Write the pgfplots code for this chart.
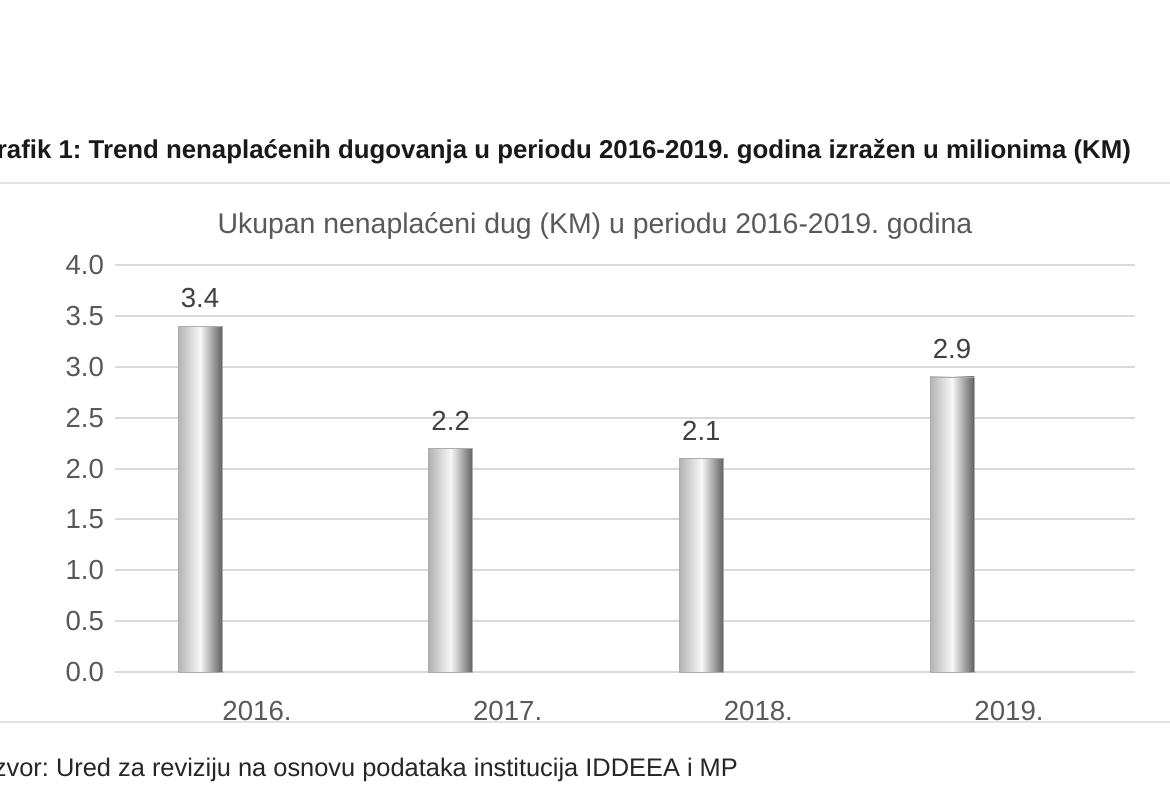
\documentclass[border=0pt]{standalone}
\usepackage{pgfplots}
\pgfplotsset{compat=1.18}
\usepackage{fontspec}
\setmainfont{Liberation Sans}
\frenchspacing
\definecolor{txtgray}{HTML}{595959}
\definecolor{gridgray}{HTML}{D9D9D9}
\definecolor{rulegray}{HTML}{E3E3E3}
\begin{document}
\begin{tikzpicture}[x=0.5pt,y=0.5pt]
\clip (0,0) rectangle (1170,800);
\fill[white] (0,0) rectangle (1170,800);
% page rules
\draw[rulegray, line width=1.2pt] (0,617) -- (1170,617);
\draw[rulegray, line width=1.2pt] (0,78) -- (1170,78);
% document caption and source
\node[anchor=east, font=\fontsize{12.9}{15}\selectfont\bfseries, text=black!90] at (1138,648)
  {Grafik 1: Trend nenaplaćenih dugovanja u periodu 2016-2019. godina izražen u milionima (KM)};
\node[anchor=east, font=\fontsize{12.7}{15}\selectfont, text=black!85] at (745,30)
  {Izvor: Ured za reviziju na osnovu podataka institucija IDDEEA i MP};
% chart title
\node[font=\fontsize{14.2}{16}\selectfont, text=txtgray] at (595,574)
  {Ukupan nenaplaćeni dug (KM) u periodu 2016-2019. godina};
\begin{axis}[
  at={(57.5pt,64pt)}, anchor=south west,
  scale only axis, width=510pt, height=203.5pt,
  xmin=-0.5386, xmax=3.5306, ymin=0, ymax=4,
  xtick={0,1,2,3}, xticklabels={2016.,2017.,2018.,2019.},
  ytick={0,0.5,1,1.5,2,2.5,3,3.5,4},
  yticklabel style={/pgf/number format/fixed, /pgf/number format/fixed zerofill,
    /pgf/number format/precision=1, xshift=-2pt},
  /pgf/number format/assume math mode=true,
  ticklabel style={font=\fontsize{13.8}{15}\selectfont, text=txtgray},
  xticklabel style={yshift=-11pt, xshift=3.5pt},
  major tick length=0pt,
  axis line style={draw=none},
  ymajorgrids, grid style={draw=gridgray, line width=1pt},
  clip=false,
  greybar/.style={ybar, bar width=22pt, bar shift=-25pt, draw=gray!65,
    left color=gray!60, right color=black!62, middle color=gray!6,
    nodes near coords,
    nodes near coords style={font=\fontsize{13.8}{15}\selectfont, text=black!75,
      /pgf/number format/fixed, /pgf/number format/fixed zerofill,
      /pgf/number format/precision=1, xshift=-25pt, yshift=5.5pt}},
]
\addplot[greybar] coordinates {(0,3.4)};
\addplot[greybar] coordinates {(1,2.2)};
\addplot[greybar] coordinates {(2,2.1)};
\addplot[greybar] coordinates {(3,2.9)};
\end{axis}
\end{tikzpicture}
\end{document}
